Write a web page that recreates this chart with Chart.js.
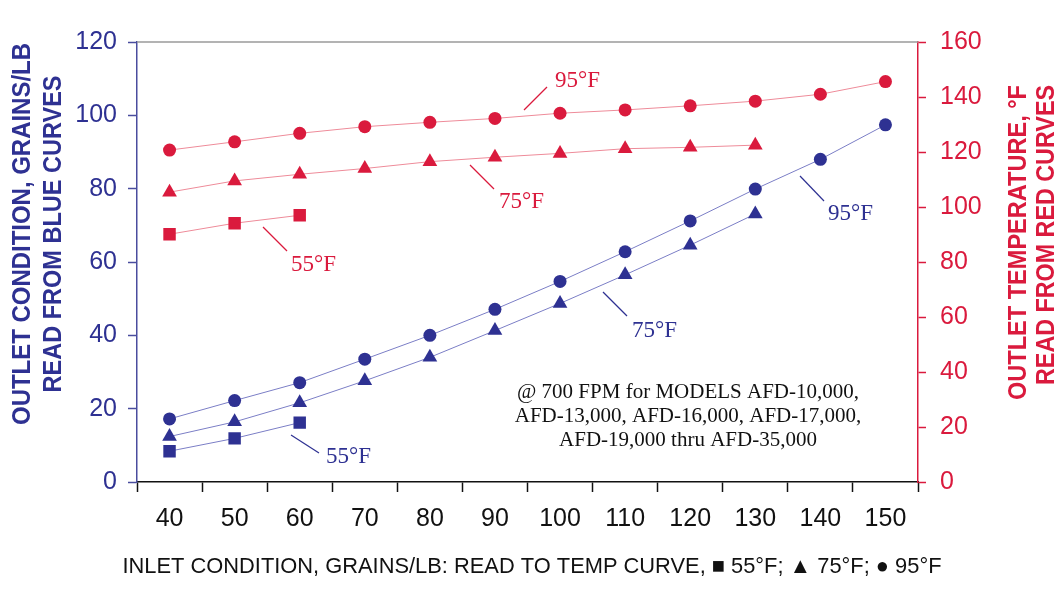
<!DOCTYPE html>
<html>
<head>
    <title>Outlet condition chart</title>
    <style>
        body {
            margin: 0;
            background-color: white;
        }
    </style>
    <script src="https://cdn.jsdelivr.net/npm/chart.js"></script>
</head>
<body>
    <canvas id="afd-chart" width="1062" height="593"></canvas>

    <script>
        // Inlet condition, grains/lb
        const inletGrains = [40, 50, 60, 70, 80, 90, 100, 110, 120, 130, 140, 150];

        // Outlet condition, grains/lb (blue curves, left axis)
        const grains95 = [17.2, 22.2, 27.1, 33.5, 40.0, 47.1, 54.7, 62.8, 71.2, 79.9, 88.0, 97.4];
        const grains75 = [12.4, 16.4, 21.6, 27.6, 34.0, 41.3, 48.7, 56.5, 64.6, 73.1];
        const grains55 = [8.4, 11.9, 16.2];

        // Outlet temperature, F (red curves, right axis)
        const temp95 = [120.7, 123.7, 126.8, 129.2, 130.8, 132.2, 134.1, 135.3, 136.8, 138.5, 141.0, 145.6];
        const temp75 = [105.4, 109.5, 111.9, 114.0, 116.5, 118.1, 119.5, 121.2, 121.7, 122.5];
        const temp55 = [90.1, 94.1, 97.0];

        const BLUE = '#2e3192';
        const BLUE_LINE = '#7b7ec6';
        const RED = '#da1a3d';
        const RED_LINE = '#ee8b99';

        // curve labels with their leader lines (pixel positions)
        const curveNotes = [
            { text: '95°F', color: RED,  line: [524, 110, 547, 87],  at: [555, 87] },
            { text: '75°F', color: RED,  line: [470, 165, 494, 189], at: [499, 208] },
            { text: '55°F', color: RED,  line: [263, 227, 287, 251], at: [291, 271] },
            { text: '95°F', color: BLUE, line: [800, 176, 824, 201], at: [828, 220] },
            { text: '75°F', color: BLUE, line: [603, 292, 627, 316], at: [632, 337] },
            { text: '55°F', color: BLUE, line: [291, 435, 319, 453], at: [326, 463] }
        ];

        const modelNote = [
            '@ 700 FPM for MODELS AFD-10,000,',
            'AFD-13,000, AFD-16,000, AFD-17,000,',
            'AFD-19,000 thru AFD-35,000'
        ];

        function series(data, axis, color, lineColor, style, radius) {
            return {
                data: data,
                yAxisID: axis,
                borderColor: lineColor,
                borderWidth: 1,
                backgroundColor: color,
                pointBackgroundColor: color,
                pointBorderWidth: 0,
                pointStyle: style,
                pointRadius: radius,
                pointHoverRadius: radius,
                tension: 0
            };
        }

        const decorations = {
            id: 'decorations',
            afterDraw(chart) {
                const ctx = chart.ctx;
                const area = chart.chartArea;
                ctx.save();

                // top frame line
                ctx.strokeStyle = '#9a9a9a';
                ctx.lineWidth = 1.5;
                ctx.beginPath();
                ctx.moveTo(area.left, area.top);
                ctx.lineTo(area.right, area.top);
                ctx.stroke();

                // curve labels
                curveNotes.forEach(n => {
                    ctx.strokeStyle = n.color;
                    ctx.lineWidth = 1.2;
                    ctx.beginPath();
                    ctx.moveTo(n.line[0], n.line[1]);
                    ctx.lineTo(n.line[2], n.line[3]);
                    ctx.stroke();
                    ctx.fillStyle = n.color;
                    ctx.font = '23px "Liberation Serif", serif';
                    ctx.textAlign = 'left';
                    ctx.textBaseline = 'alphabetic';
                    ctx.fillText(n.text, n.at[0], n.at[1]);
                });

                // model note
                ctx.fillStyle = '#111';
                ctx.font = '21px "Liberation Serif", serif';
                ctx.textAlign = 'center';
                modelNote.forEach((line, i) => {
                    ctx.fillText(line, 688, 398 + i * 24);
                });

                // x axis title
                ctx.font = '22px "Liberation Sans", Arial, sans-serif';
                ctx.fillText('INLET CONDITION, GRAINS/LB: READ TO TEMP CURVE, \u25A0 55°F; \u25B2 75°F; \u25CF 95°F', 532, 573, 819);

                // left axis title
                ctx.fillStyle = BLUE;
                ctx.font = 'bold 26px "Liberation Sans", Arial, sans-serif';
                ctx.textAlign = 'center';
                [['OUTLET CONDITION, GRAINS/LB', 30, 382], ['READ FROM BLUE CURVES', 61, 317]].forEach(t => {
                    ctx.save();
                    ctx.translate(t[1], 234);
                    ctx.rotate(-Math.PI / 2);
                    ctx.fillText(t[0], 0, 0, t[2]);
                    ctx.restore();
                });

                // right axis title
                ctx.fillStyle = RED;
                ctx.textAlign = 'right';
                [['OUTLET TEMPERATURE, °F', 1026, 315], ['READ FROM RED CURVES', 1054, 300]].forEach(t => {
                    ctx.save();
                    ctx.translate(t[1], 85);
                    ctx.rotate(-Math.PI / 2);
                    ctx.fillText(t[0], 0, 0, t[2]);
                    ctx.restore();
                });

                ctx.restore();
            }
        };

        const tickFont = { family: '"Liberation Sans", Arial, sans-serif', size: 25 };

        new Chart(document.getElementById('afd-chart'), {
            type: 'line',
            data: {
                labels: inletGrains,
                datasets: [
                    series(grains95, 'y', BLUE, BLUE_LINE, 'circle', 6.5),
                    series(grains75, 'y', BLUE, BLUE_LINE, 'triangle', 8.5),
                    series(grains55, 'y', BLUE, BLUE_LINE, 'rect', 8.8),
                    series(temp95, 'y1', RED, RED_LINE, 'circle', 6.5),
                    series(temp75, 'y1', RED, RED_LINE, 'triangle', 8.5),
                    series(temp55, 'y1', RED, RED_LINE, 'rect', 8.8)
                ]
            },
            options: {
                responsive: false,
                animation: false,
                devicePixelRatio: 1,
                layout: { padding: { top: 42, left: 0, right: 0, bottom: 0 } },
                plugins: {
                    legend: { display: false },
                    tooltip: { enabled: false }
                },
                scales: {
                    x: {
                        type: 'category',
                        offset: true,
                        afterFit: s => { s.height = 111; },
                        grid: {
                            offset: true,
                            drawOnChartArea: false,
                            tickLength: 10,
                            tickColor: '#111',
                            tickWidth: 1.5
                        },
                        border: { color: '#111', width: 1.5 },
                        ticks: { color: '#111', font: tickFont, padding: 12, maxRotation: 0 }
                    },
                    y: {
                        position: 'left',
                        min: 0,
                        max: 120,
                        afterFit: s => { s.width = 137; },
                        grid: {
                            drawOnChartArea: false,
                            tickLength: 9,
                            tickColor: '#4a4d9e',
                            tickWidth: 1.5
                        },
                        border: { color: '#4a4d9e', width: 1.5 },
                        ticks: { stepSize: 20, color: BLUE, font: tickFont, padding: 11 }
                    },
                    y1: {
                        position: 'right',
                        min: 0,
                        max: 160,
                        afterFit: s => { s.width = 144; },
                        grid: {
                            drawOnChartArea: false,
                            tickLength: 8,
                            tickColor: RED,
                            tickWidth: 1.5
                        },
                        border: { color: RED, width: 1.5 },
                        ticks: { stepSize: 20, color: RED, font: tickFont, padding: 14 }
                    }
                }
            },
            plugins: [decorations]
        });
    </script>
</body>
</html>
